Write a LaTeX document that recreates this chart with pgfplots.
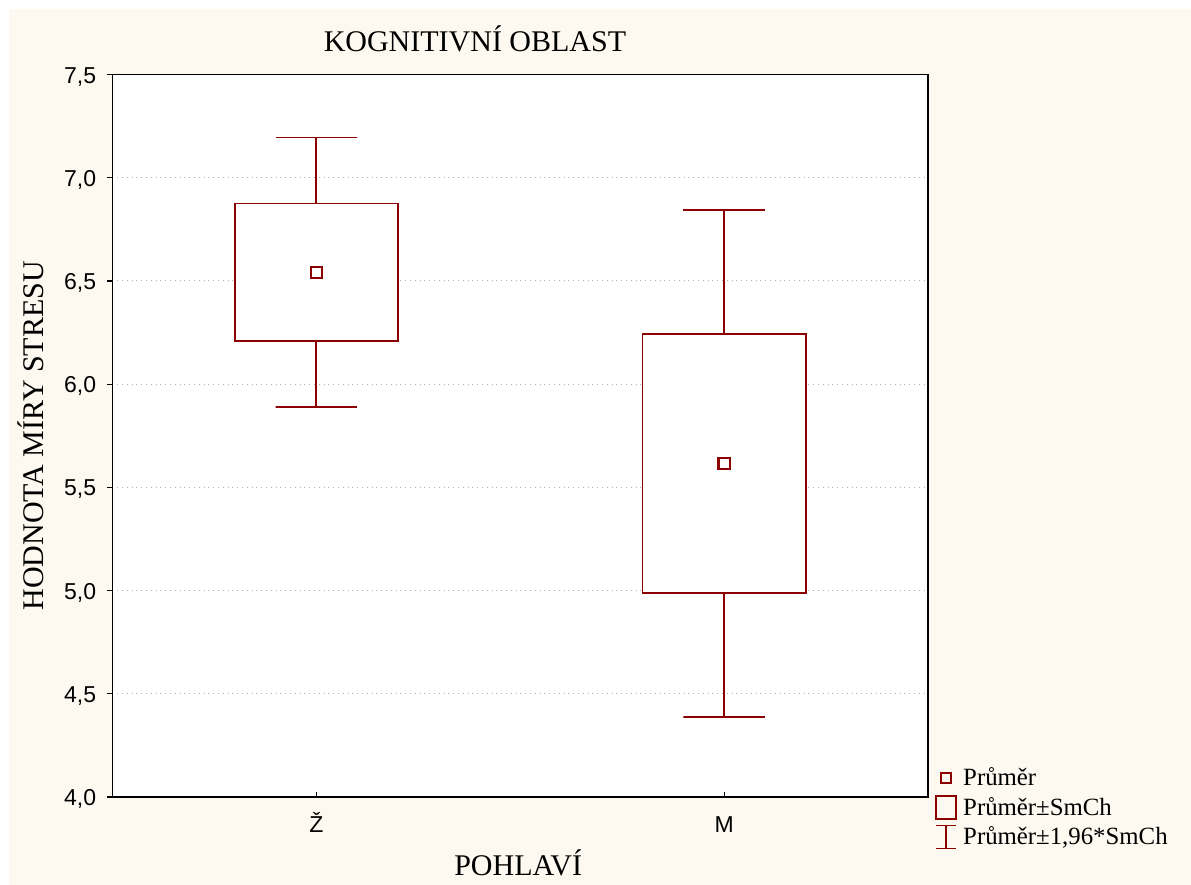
\documentclass[border=0pt]{standalone}
\usepackage{fontspec}
\setmainfont{Liberation Serif}
\newfontfamily\arial{Liberation Sans}
\usepackage{pgfplots}
\pgfplotsset{compat=1.18}
\definecolor{cream}{RGB}{253,249,240}
\definecolor{dred}{RGB}{139,0,0}
\definecolor{gridc}{RGB}{175,175,175}

\begin{document}
\begin{tikzpicture}[x=1pt,y=1pt]
\useasboundingbox (0,0) rectangle (595.5,442.5);
\fill[white] (0,0) rectangle (595.5,442.5);
\fill[cream] (4.5,0) rectangle (595.5,438);
\begin{axis}[
  at={(56.25pt,44pt)}, anchor=south west,
  scale only axis, width=407.75pt, height=361.25pt,
  xmin=-0.5, xmax=1.5, ymin=4, ymax=7.5,
  axis background/.style={fill=white},
  axis line style={line width=0.8pt},
  xtick={0,1}, xticklabels={Ž,M},
  ytick={4,4.5,5,5.5,6,6.5,7,7.5},
  ymajorgrids, grid style={gridc, dotted, line width=0.5pt},
  tick style={black, line width=0.6pt},
  major tick length=2.5pt,
  xtick pos=bottom, xtick align=inside,
  ytick pos=left, ytick align=outside,
  yticklabel style={/pgf/number format/use comma, /pgf/number format/fixed, /pgf/number format/fixed zerofill, /pgf/number format/precision=1, /pgf/number format/assume math mode=true},
  yticklabel style={font=\arial\fontsize{11.5}{13}\selectfont, anchor=base east, inner sep=0pt, xshift=-5.5pt, yshift=-4.25pt},
  xticklabel style={font=\arial\fontsize{11.5}{13}\selectfont, anchor=base, inner sep=0pt, yshift=-18pt},
  every axis title shift=0pt,
  title={KOGNITIVNÍ OBLAST},
  title style={font=\fontsize{15}{18}\selectfont, at={(axis description cs:0.4445,1.0316)}, anchor=base, inner sep=0pt},
  xlabel={POHLAVÍ},
  xlabel style={font=\fontsize{15}{18}\selectfont, at={(axis description cs:0.4975,-0.1093)}, anchor=base, inner sep=0pt},
  ylabel={HODNOTA MÍRY STRESU},
  ylabel style={font=\fontsize{15}{18}\selectfont, at={(axis description cs:-0.0840,0.5)}, anchor=base, inner sep=0pt},
  legend style={draw=none, fill=none, at={(axis description cs:1.0086,0.0450)}, anchor=north west,
    font=\fontsize{12.4}{14}\selectfont, inner sep=0pt, row sep=1.2pt, column sep=1.5pt,
    nodes={inner sep=1.5pt}},
  legend cell align=left,
]
\addlegendimage{legend image code/.code={\draw[dred, line width=1.1pt] (2.5pt,-2.5pt) rectangle (7.5pt,2.5pt);}}
\addlegendentry{Průměr}
\addlegendimage{legend image code/.code={\draw[dred, line width=0.9pt] (0pt,-5.75pt) rectangle (10pt,5.75pt);}}
\addlegendentry{Průměr±SmCh}
\addlegendimage{legend image code/.code={\draw[dred, line width=0.9pt] (0pt,-5.75pt) -- (10pt,-5.75pt) (5pt,-5.75pt) -- (5pt,5.75pt) (0pt,5.75pt) -- (10pt,5.75pt);}}
\addlegendentry{Průměr±1,96*SmCh}

% whiskers: mean +/- 1.96*SE
\addplot[dred, line width=0.9pt, mark=none, forget plot] coordinates {(-0.1,7.195) (0.1,7.195) (0,7.195) (0,5.889) (-0.1,5.889) (0.1,5.889)};
\addplot[dred, line width=0.9pt, mark=none, forget plot] coordinates {(0.9,6.844) (1.1,6.844) (1,6.844) (1,4.386) (0.9,4.386) (1.1,4.386)};
% boxes: mean +/- SE
\addplot[dred, fill=white, line width=0.9pt, mark=none, line cap=rect, forget plot] coordinates {(-0.2,6.209) (0.2,6.209) (0.2,6.875) (-0.2,6.875) (-0.2,6.209)};
\addplot[dred, fill=white, line width=0.9pt, mark=none, line cap=rect, forget plot] coordinates {(0.8,4.988) (1.2,4.988) (1.2,6.242) (0.8,6.242) (0.8,4.988)};
% means
\addplot[only marks, mark=square, mark size=2.8pt, dred, mark options={line width=1.1pt, solid}, forget plot] coordinates {(0,6.542) (1,5.615)};
\end{axis}
\end{tikzpicture}
\end{document}
